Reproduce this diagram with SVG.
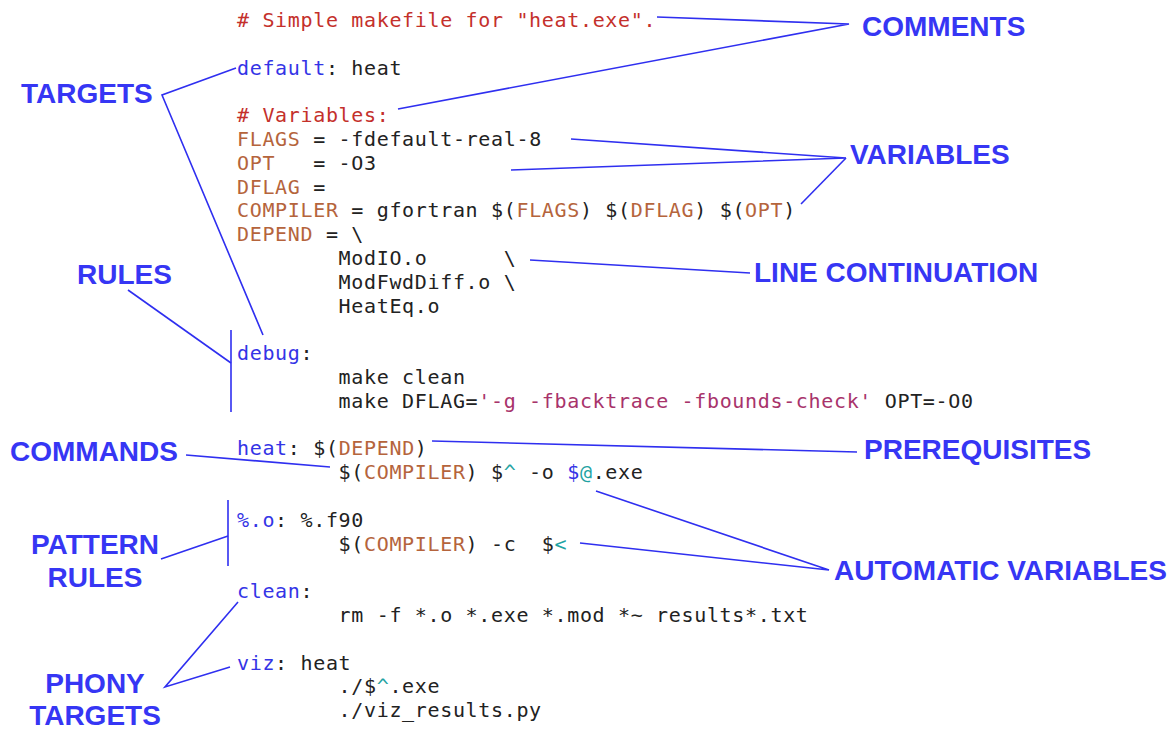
<svg xmlns="http://www.w3.org/2000/svg" width="1172" height="729" viewBox="0 0 1172 729">
  <style>
    .code { font-family: "DejaVu Sans Mono", "Liberation Mono", monospace; font-size: 20px; letter-spacing: 0.66px; fill: #222222; }
    .cm { fill: #c4302b; }
    .tg { fill: #3434e6; }
    .vr { fill: #b5643c; }
    .st { fill: #a8336b; }
    .av { fill: #1fa3a3; }
    .lbl { font-family: "Liberation Sans", Arial, sans-serif; font-weight: bold; font-size: 28px; fill: #3636f4; }
    .conn { fill: none; stroke: #2f2ff0; stroke-width: 1.6; stroke-linejoin: miter; }
  </style>

  <!-- makefile listing: column 0 at x=237, column 8 (tab) at x=338.6, 12.7px per column -->
  <g id="makefile" class="code">
    <text x="237" y="27"><tspan class="cm"># Simple makefile for "heat.exe".</tspan></text>
    <text x="237" y="74.6"><tspan class="tg">default</tspan>: heat</text>
    <text x="237" y="122.2"><tspan class="cm"># Variables:</tspan></text>
    <text x="237" y="146"><tspan class="vr">FLAGS</tspan> = -fdefault-real-8</text>
    <text x="237" y="169.8"><tspan class="vr">OPT</tspan><tspan x="313.2">= -O3</tspan></text>
    <text x="237" y="193.6"><tspan class="vr">DFLAG</tspan> =</text>
    <text x="237" y="217.4"><tspan class="vr">COMPILER</tspan> = gfortran $(<tspan class="vr">FLAGS</tspan>) $(<tspan class="vr">DFLAG</tspan>) $(<tspan class="vr">OPT</tspan>)</text>
    <text x="237" y="241.2"><tspan class="vr">DEPEND</tspan> = \</text>
    <text x="338.6" y="265">ModIO.o<tspan x="503.7">\</tspan></text>
    <text x="338.6" y="288.8">ModFwdDiff.o \</text>
    <text x="338.6" y="312.6">HeatEq.o</text>
    <text x="237" y="360.2"><tspan class="tg">debug</tspan>:</text>
    <text x="338.6" y="384">make clean</text>
    <text x="338.6" y="407.8">make DFLAG=<tspan class="st">'-g -fbacktrace -fbounds-check'</tspan> OPT=-O0</text>
    <text x="237" y="455.4"><tspan class="tg">heat</tspan>: $(<tspan class="vr">DEPEND</tspan>)</text>
    <text x="338.6" y="479.2">$(<tspan class="vr">COMPILER</tspan>) $<tspan class="av">^</tspan> -o <tspan class="tg">$</tspan><tspan class="av">@</tspan>.exe</text>
    <text x="237" y="526.8"><tspan class="tg">%.o</tspan>: %.f90</text>
    <text x="338.6" y="550.6">$(<tspan class="vr">COMPILER</tspan>) -c<tspan x="541.8">$</tspan><tspan class="av">&lt;</tspan></text>
    <text x="237" y="598.2"><tspan class="tg">clean</tspan>:</text>
    <text x="338.6" y="622">rm -f *.o *.exe *.mod *~ results*.txt</text>
    <text x="237" y="669.6"><tspan class="tg">viz</tspan>: heat</text>
    <text x="338.6" y="693.4">./$<tspan class="av">^</tspan>.exe</text>
    <text x="338.6" y="717.2">./viz_results.py</text>
  </g>

  <!-- pointer lines and brackets -->
  <g id="connectors" class="conn">
    <polyline points="657,17 849,24 398,109"/>
    <polyline points="236,68 162,95 263,335"/>
    <line x1="128" y1="290" x2="231" y2="363"/>
    <line x1="231" y1="330" x2="231" y2="412"/>
    <polyline points="571,139 846,158 511,170"/>
    <line x1="801" y1="204" x2="846" y2="158"/>
    <line x1="530" y1="260" x2="750" y2="273"/>
    <line x1="186" y1="455" x2="330" y2="467"/>
    <line x1="432" y1="441" x2="857" y2="452"/>
    <polyline points="596,491 829,570 580,543"/>
    <line x1="228" y1="500" x2="228" y2="566"/>
    <line x1="161" y1="559" x2="228" y2="536"/>
    <polyline points="238,602 165,687 230,667"/>
  </g>

  <!-- annotation labels -->
  <g id="lbl-comments"><text class="lbl" x="862" y="36">COMMENTS</text></g>
  <g id="lbl-targets"><text class="lbl" x="21" y="103">TARGETS</text></g>
  <g id="lbl-variables"><text class="lbl" x="850" y="164">VARIABLES</text></g>
  <g id="lbl-line-continuation"><text class="lbl" x="754" y="282">LINE CONTINUATION</text></g>
  <g id="lbl-rules"><text class="lbl" x="77" y="284">RULES</text></g>
  <g id="lbl-commands"><text class="lbl" x="10" y="460.5">COMMANDS</text></g>
  <g id="lbl-prerequisites"><text class="lbl" x="864" y="459">PREREQUISITES</text></g>
  <g id="lbl-pattern-rules">
    <text class="lbl" x="95" y="554" text-anchor="middle">PATTERN</text>
    <text class="lbl" x="95" y="587" text-anchor="middle">RULES</text>
  </g>
  <g id="lbl-automatic-variables"><text class="lbl" x="834" y="580">AUTOMATIC VARIABLES</text></g>
  <g id="lbl-phony-targets">
    <text class="lbl" x="95" y="693" text-anchor="middle">PHONY</text>
    <text class="lbl" x="95" y="725" text-anchor="middle">TARGETS</text>
  </g>
</svg>
